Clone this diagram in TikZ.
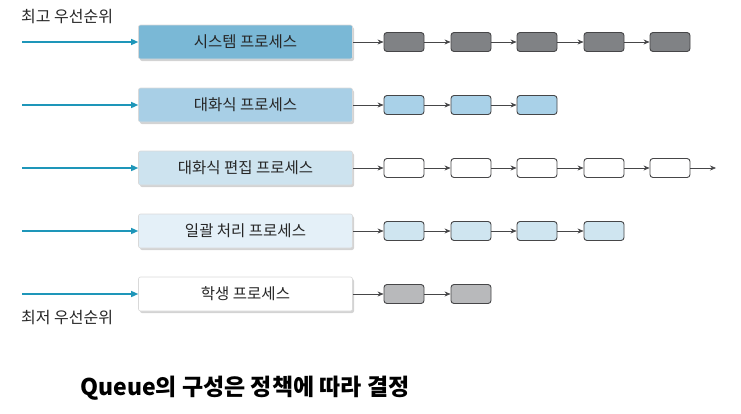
\documentclass[tikz,border=0pt]{standalone}
\usepackage{fontspec}
\setmainfont{Noto Sans CJK KR}
\usetikzlibrary{arrows.meta,shadows}
\definecolor{teal1}{RGB}{30,150,185}
\definecolor{pA}{RGB}{122,184,214}
\definecolor{pB}{RGB}{168,207,230}
\definecolor{pC}{RGB}{205,227,239}
\definecolor{pD}{RGB}{228,240,248}
\definecolor{sA}{RGB}{128,130,133}
\definecolor{sB}{RGB}{169,209,232}
\definecolor{sD}{RGB}{207,229,240}
\definecolor{sE}{RGB}{184,185,187}
\definecolor{edge}{RGB}{70,70,72}
\tikzset{
  procbox/.style={draw=white!85!black, line width=0.6pt, rounded corners=2pt,
    minimum width=214pt, minimum height=34pt, inner sep=0pt,
    font=\fontsize{15.5}{17}\selectfont, text=black!85,
    drop shadow={shadow xshift=1.5pt, shadow yshift=-2pt, opacity=0.35}},
  qbox/.style={draw=edge, line width=0.9pt, rounded corners=3pt,
    minimum width=40pt, minimum height=19pt, inner sep=0pt},
  inarrow/.style={draw=teal1, line width=1.3pt, -{Triangle[length=7pt,width=6pt]}},
  link/.style={draw=edge, line width=0.6pt, -{Stealth[length=6pt,width=5pt]}},
  plabel/.style={font=\fontsize{16}{18}\selectfont, text=black!85, anchor=west, inner sep=0pt},
}
\begin{document}
\begin{tikzpicture}[x=1pt,y=-1pt]
\useasboundingbox (0,0) rectangle (741,413);
% labels
\node[plabel] (hi) at (21,17) {최고 우선순위};
\node[plabel] (lo) at (21,318) {최저 우선순위};
% process boxes
\node[procbox, fill=pA] (p1) at (245.5,42) {시스템 프로세스};
\node[procbox, fill=pB] (p2) at (245.5,105) {대화식 프로세스};
\node[procbox, fill=pC] (p3) at (245.5,168) {대화식 편집 프로세스};
\node[procbox, fill=pD] (p4) at (245.5,231) {일괄 처리 프로세스};
\node[procbox, fill=white] (p5) at (245.5,294) {학생 프로세스};
% incoming arrows
\foreach \i in {1,...,5} {
  \coordinate (s\i) at (22,{42+63*(\i-1)});
  \draw[inarrow] (s\i) -- (p\i.west);
}
% row 1
\foreach \j/\x in {1/404,2/471,3/537,4/604,5/670}
  \node[qbox, fill=sA] (a\j) at (\x,42) {};
\draw[link] (p1) -- (a1);
\foreach \j/\k in {1/2,2/3,3/4,4/5} \draw[link] (a\j) -- (a\k);
% row 2
\foreach \j/\x in {1/404,2/471,3/537}
  \node[qbox, fill=sB] (b\j) at (\x,105) {};
\draw[link] (p2) -- (b1);
\foreach \j/\k in {1/2,2/3} \draw[link] (b\j) -- (b\k);
% row 3
\foreach \j/\x in {1/404,2/471,3/537,4/604,5/670}
  \node[qbox, fill=white] (c\j) at (\x,168) {};
\draw[link] (p3) -- (c1);
\foreach \j/\k in {1/2,2/3,3/4,4/5} \draw[link] (c\j) -- (c\k);
\coordinate (cend) at (716,168);
\draw[link] (c5) -- (cend);
% row 4
\foreach \j/\x in {1/404,2/471,3/537,4/604}
  \node[qbox, fill=sD] (d\j) at (\x,231) {};
\draw[link] (p4) -- (d1);
\foreach \j/\k in {1/2,2/3,3/4} \draw[link] (d\j) -- (d\k);
% row 5
\node[qbox, fill=sE] (e1) at (404,294) {};
\node[qbox, fill=sE] (e2) at (471,294) {};
\draw[link] (p5) -- (e1);
\draw[link] (e1) -- (e2);
% title
\node[font=\bfseries\fontsize{23}{25}\selectfont, anchor=west, inner sep=0pt] (title) at (80,388) {Queue의 구성은 정책에 따라 결정};
\end{tikzpicture}
\end{document}
